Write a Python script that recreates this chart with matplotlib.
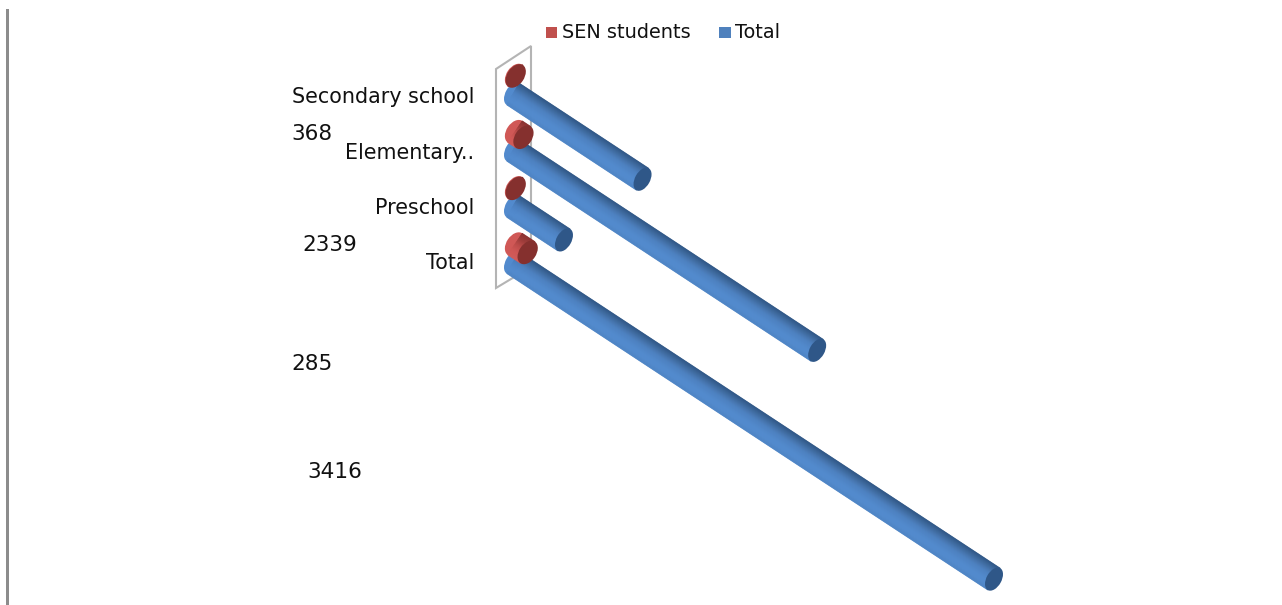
import numpy as np
import matplotlib
matplotlib.use("Agg")
import matplotlib.pyplot as plt
from matplotlib.patches import Ellipse, Polygon, Rectangle
from matplotlib.transforms import Affine2D
from matplotlib.colors import LinearSegmentedColormap

categories = ["Secondary school", "Elementary..", "Preschool", "Total"]
total_values = [920, 2160, 362, 3416]
sen_values = [5, 60, 5, 90]
floating_labels = ["368", "2339", "285", "3416"]
series_names = ["SEN students", "Total"]

W, H = 1282, 605
fig = plt.figure(figsize=(W / 100, H / 100), dpi=100)
ax = fig.add_axes([0, 0, 1, 1])
ax.set_xlim(0, W)
ax.set_ylim(H, 0)
ax.axis("off")

# oblique projection: (value, row position) -> pixels
K, SLOPE = 481 / 3416, 0.658
project = Affine2D.from_values(K, K * SLOPE, 0, 1, 0, 0)
N = 30

blue_cm = LinearSegmentedColormap.from_list("b", ["#4e85c6", "#528acd", "#528acd", "#4f85c7", "#4c80c0", "#4574ae", "#3a6699", "#2f5686"])
red_cm = LinearSegmentedColormap.from_list("r", ["#d25b59", "#cf5755", "#bd4c4a", "#9f3d3b", "#8a3230"])


def cylinder(value, x0, y0, cmap, cap, z, R, minor, cdir):
    cdir = np.array(cdir)
    angle = np.degrees(np.arctan2(cdir[1], cdir[0]))
    p0 = np.array([x0, y0]) + project.transform_point((0, 0))
    p1 = np.array([x0, y0]) + project.transform_point((value, 0))
    ax.add_patch(Ellipse(p0, 2 * R, 2 * minor, angle=angle, fc=cmap(0.2), ec="none", zorder=z))
    ts = np.linspace(-1, 1, N + 1)
    for i in range(N):
        a, b = ts[i] * R * cdir, ts[i + 1] * R * cdir
        c = cmap(i / (N - 1))
        ax.add_patch(Polygon([p0 + a, p1 + a, p1 + b, p0 + b], closed=True,
                             fc=c, ec=c, lw=0.5, zorder=z + 0.1 - i * 0.001))
    ax.add_patch(Ellipse(p1, 2 * R, 2 * minor, angle=angle, fc=cap, ec="none", zorder=z + 0.2))


# side wall of the 3-D plot area
ax.add_patch(Polygon([(496, 288), (496, 69), (531, 46), (531, 267)], closed=True,
                     fc="none", ec="#b4b4b4", lw=1.5, zorder=1))
# frame line at the left of the picture
ax.add_patch(Rectangle((6, 9), 3, H - 9, fc="#8c8c8c", ec="none", zorder=1))

ROW0, STEP = 94, 56.2
for i, cat in enumerate(categories):
    yc = ROW0 + STEP * i
    z = 2 + i
    cylinder(total_values[i], 513, yc, blue_cm, "#2f5788", z, 12.6, 7.5, (0.49, -0.87))
    cylinder(sen_values[i], 515, yc - 18.5, red_cm, "#85302e", z + 0.5, 13.0, 8.5, (0.56, -0.83))

# category labels
label_y = [97, 153, 208, 263]
for cat, y in zip(categories, label_y):
    ax.text(474, y, cat, ha="right", va="center", fontsize=14.9, family="DejaVu Sans", color="#111111", zorder=10)

# floating data labels
for s, x, y in zip(floating_labels, [291, 302, 291, 307], [134, 245, 364, 472]):
    ax.text(x, y, s, ha="left", va="center", fontsize=15.6, family="DejaVu Sans", color="#111111", zorder=10)

# legend
ax.add_patch(Rectangle((546, 27), 11, 11, fc="#c0504d", ec="none", zorder=10))
ax.text(562, 32, series_names[0], ha="left", va="center", fontsize=13.9, family="DejaVu Sans", color="#111111", zorder=10)
ax.add_patch(Rectangle((719, 27), 12, 11, fc="#4f81bd", ec="none", zorder=10))
ax.text(735, 32, series_names[1], ha="left", va="center", fontsize=13.9, family="DejaVu Sans", color="#111111", zorder=10)

fig.savefig("out.png", dpi=100, facecolor="white")
